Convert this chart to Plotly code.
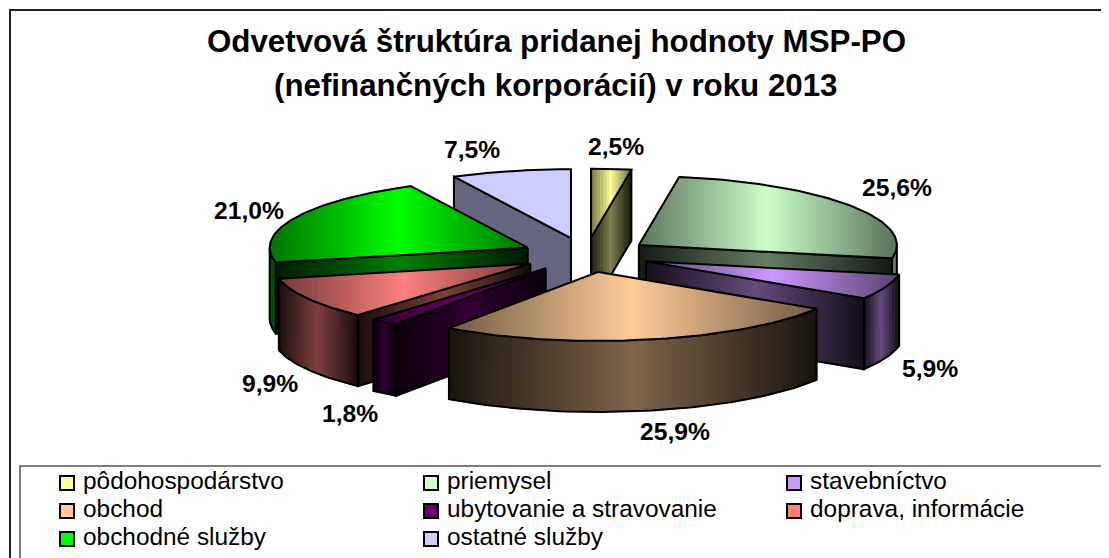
import numpy as np
import plotly.graph_objects as go

# ---- data ----
categories = ["pôdohospodárstvo", "priemysel", "stavebníctvo", "obchod",
              "ubytovanie a stravovanie", "doprava, informácie",
              "obchodné služby", "ostatné služby"]
shares = [2.5, 25.6, 5.9, 25.9, 1.8, 9.9, 21.0, 7.5]
colors = ["#FFFF99", "#CCFFCC", "#CC99FF", "#FFCC99",
          "#660066", "#FF8080", "#00FF00", "#CCCCFF"]
title_lines = ["Odvetvová štruktúra pridanej hodnoty MSP-PO",
               "(nefinančných korporácií) v roku 2013"]

# ---- pie geometry (layout constants) ----
W, H = 1109, 558
PAGE_MARGIN = 8   # the page body offsets the plot by this much
CX, CY, RX, RY, DEPTH, EXPLODE = 586, 255, 258, 69, 71, 0.25
label_centres = [(616, 146), (897, 187), (930, 368), (675, 431),
                 (350, 413), (270, 383), (249, 210), (472, 149)]
flat_slices = {"ostatné služby"}   # drawn without a left-right gradient
LEGEND_COLS = [67, 431, 794]
LEGEND_ROWS = [483, 511, 539]
LEGEND_GAP = 16


def rgb(hexcol):
    return np.array([int(hexcol[i:i + 2], 16) for i in (1, 3, 5)], float)


def clip(poly, x0, x1):
    """Clip polygon to the vertical band x0..x1."""
    def cut(pts, inside, xc):
        out = []
        for i in range(len(pts)):
            a, b = pts[i - 1], pts[i]
            ia, ib = inside(a[0]), inside(b[0])
            if ia != ib:
                t = (xc - a[0]) / (b[0] - a[0])
                out.append((xc, a[1] + t * (b[1] - a[1])))
            if ib:
                out.append(b)
        return out
    pts = cut(list(poly), lambda x: x >= x0, x0)
    if pts:
        pts = cut(pts, lambda x: x <= x1, x1)
    return pts


fig = go.Figure()


def shaded(poly, base, lo, hi, step=3):
    """Polygon with a left-right gradient: dark edges, brightest in the middle."""
    xs = [p[0] for p in poly]
    xmin, xmax = min(xs), max(xs)
    n = max(1, int((xmax - xmin) / step))
    edges = np.linspace(xmin, xmax, n + 1)
    for i in range(n):
        strip = clip(poly, edges[i], edges[i + 1])
        if len(strip) < 3:
            continue
        t = ((edges[i] + edges[i + 1]) / 2 - xmin) / max(xmax - xmin, 1)
        f = lo + (hi - lo) * (1 - abs(2 * t - 1))
        c = np.clip(base * f, 0, 255).astype(int)
        col = f"rgb({c[0]},{c[1]},{c[2]})"
        fig.add_trace(go.Scatter(
            x=[p[0] for p in strip] + [strip[0][0]],
            y=[p[1] for p in strip] + [strip[0][1]],
            mode="lines", fill="toself", fillcolor=col,
            line=dict(color=col, width=1),
            hoverinfo="skip", showlegend=False))
    fig.add_trace(go.Scatter(
        x=[p[0] for p in poly] + [poly[0][0]],
        y=[p[1] for p in poly] + [poly[0][1]],
        mode="lines", line=dict(color="black", width=2),
        hoverinfo="skip", showlegend=False))


bounds = np.cumsum([0] + shares) / sum(shares) * 360
slices = []
for k in range(len(shares)):
    a0, a1 = np.radians(bounds[k]), np.radians(bounds[k + 1])
    mid = (a0 + a1) / 2
    slices.append((-np.cos(mid), k, a0, a1, mid))

for _, k, a0, a1, mid in sorted(slices):
    ax = CX + EXPLODE * RX * np.sin(mid)
    ay = CY - EXPLODE * RY * np.cos(mid)
    base = rgb(colors[k])
    flat = categories[k] in flat_slices
    wall_lo = 0.5 if flat else 0.10
    top_lo = 1.0 if flat else 0.45

    def P(a):
        return (ax + RX * np.sin(a), ay - RY * np.cos(a))

    def down(p):
        return (p[0], p[1] + DEPTH)

    apex = (ax, ay)
    # radial wall on the start edge (faces the viewer on the left half)
    if np.sin(a0) < -1e-6:
        e = P(a0)
        shaded([apex, e, down(e), down(apex)], base, wall_lo, 0.50)
    # radial wall on the end edge (faces the viewer on the right half)
    if np.sin(a1) > 1e-6:
        e = P(a1)
        shaded([apex, e, down(e), down(apex)], base, wall_lo, 0.50)
    # outer wall on the front half of the rim
    lo_a, hi_a = max(a0, np.pi / 2), min(a1, 3 * np.pi / 2)
    if hi_a > lo_a:
        arc = [P(a) for a in np.linspace(lo_a, hi_a, 60)]
        shaded(arc + [down(p) for p in arc[::-1]], base, wall_lo, 0.50)
    # top face
    arc = [P(a) for a in np.linspace(a0, a1, 80)]
    shaded([apex] + arc, base, top_lo, 1.0)

# legend, drawn in the plot so its rows can match the reference pitch
for k, (name, col) in enumerate(zip(categories, colors)):
    row, column = divmod(k, len(LEGEND_COLS))
    lx, ly = LEGEND_COLS[column], LEGEND_ROWS[row]
    fig.add_trace(go.Scatter(
        x=[lx], y=[ly], mode="markers", name=name, showlegend=False,
        marker=dict(symbol="square", size=14, color=col,
                    line=dict(color="black", width=2)),
        hoverinfo="name"))
    fig.add_trace(go.Scatter(
        x=[lx + LEGEND_GAP], y=[ly], mode="text", text=[name],
        textposition="middle right", showlegend=False, hoverinfo="skip",
        textfont=dict(family="Liberation Sans", size=24.4, color="black")))

annotations = [
    dict(x=556, y=y, text=f"<b>{t}</b>", showarrow=False,
         xref="x", yref="y", xanchor="center", yanchor="middle",
         font=dict(family="Liberation Sans", size=31.3, color="black"))
    for t, y in zip(title_lines, (41, 85))
]
for v, (lx, ly) in zip(shares, label_centres):
    annotations.append(dict(
        x=lx, y=ly, text="<b>" + f"{v:.1f}".replace(".", ",") + "%</b>",
        showarrow=False, xref="x", yref="y", xanchor="center", yanchor="middle",
        font=dict(family="Liberation Sans", size=24.7, color="black")))

fig.update_layout(
    width=W - PAGE_MARGIN, height=H - PAGE_MARGIN, autosize=False,
    margin=dict(l=0, r=0, t=0, b=0),
    paper_bgcolor="white", plot_bgcolor="white", showlegend=False,
    xaxis=dict(range=[PAGE_MARGIN, W], visible=False, fixedrange=True),
    yaxis=dict(range=[H, PAGE_MARGIN], visible=False, fixedrange=True),
    annotations=annotations,
    shapes=[
        dict(type="rect", x0=10, y0=10, x1=W + 5, y1=H + 5, xref="x", yref="y",
             line=dict(color="#222222", width=2), layer="below"),
        dict(type="rect", x0=20, y0=466, x1=1108, y1=H + 5, xref="x", yref="y",
             line=dict(color="#555555", width=1.5), fillcolor="white", layer="below"),
    ],
)
fig.write_html("out.html")
